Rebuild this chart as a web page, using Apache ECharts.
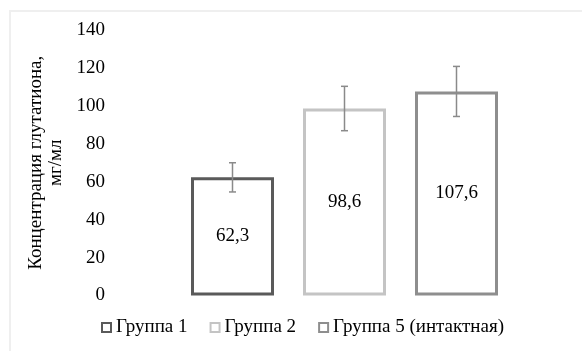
<!DOCTYPE html>
<html>
<head>
<meta charset="utf-8">
<script src="https://cdn.jsdelivr.net/npm/echarts@6/dist/echarts.min.js"></script>
<style>
html,body{margin:0;padding:0;background:#fff;}
#chart{width:582px;height:351px;}
</style>
</head>
<body>
<div id="chart"></div>
<script>
const categories = ['Группа 1', 'Группа 2', 'Группа 5 (интактная)'];
const values = [62.3, 98.6, 107.6];
const errors = [7.7, 11.7, 13.2];
const valueLabels = ['62,3', '98,6', '107,6'];
const yTicks = [0, 20, 40, 60, 80, 100, 120, 140];

const borderColors = ['#5a5a5a', '#c4c4c4', '#8e8e8e'];
const font = "'Liberation Serif', 'Times New Roman', serif";
const fs = 19;

const chart = echarts.init(document.getElementById('chart'));

const barSeries = categories.map((name, i) => ({
  name: name,
  type: 'bar',
  stack: 'all',
  barWidth: 83,
  data: categories.map((c, j) => (j === i ? values[i] : '-')),
  itemStyle: { color: '#ffffff', borderColor: borderColors[i], borderWidth: 3 },
  label: {
    show: true,
    position: 'inside',
    color: '#000',
    fontFamily: font,
    fontSize: fs,
    formatter: () => valueLabels[i]
  },
  emphasis: { disabled: true },
  z: 2
}));

const errData = values.map((v, i) => [i, v - errors[i], v + errors[i]]);

const option = {
  animation: false,
  backgroundColor: '#ffffff',
  graphic: [{
    type: 'rect',
    shape: { x: 10, y: 11, width: 600, height: 400 },
    style: { fill: 'none', stroke: '#efefef', lineWidth: 2 },
    silent: true,
    z: -10
  }],
  grid: { left: 176.5, right: 69.5, top: 30, bottom: 55.5 },
  legend: {
    left: 96,
    top: 313,
    icon: 'rect',
    itemWidth: 9,
    itemHeight: 9,
    itemGap: 22,
    data: categories,
    textStyle: { color: '#000', fontFamily: font, fontSize: fs },
    itemStyle: { borderWidth: 2 }
  },
  xAxis: {
    type: 'category',
    data: categories,
    axisLine: { show: false },
    axisTick: { show: false },
    axisLabel: { show: false },
    splitLine: { show: false }
  },
  yAxis: {
    type: 'value',
    min: yTicks[0],
    max: yTicks[yTicks.length - 1],
    interval: 20,
    axisLine: { show: false },
    axisTick: { show: false },
    splitLine: { show: false },
    axisLabel: { color: '#000', fontFamily: font, fontSize: fs, margin: 71.5 },
    name: 'Концентрация глутатиона,\nмг/мл',
    nameLocation: 'middle',
    nameGap: 100,
    nameRotate: 90,
    nameTextStyle: { color: '#000', fontFamily: font, fontSize: fs, lineHeight: 20 }
  },
  series: barSeries.concat([{
    type: 'custom',
    name: 'err',
    data: errData,
    encode: { x: 0, y: [1, 2] },
    z: 5,
    renderItem: function (params, api) {
      const x = api.value(0);
      const lo = api.coord([x, api.value(1)]);
      const hi = api.coord([x, api.value(2)]);
      const hw = 3.5;
      const st = { stroke: '#8a8a8a', lineWidth: 1.5 };
      return {
        type: 'group',
        children: [
          { type: 'line', shape: { x1: lo[0], y1: lo[1], x2: hi[0], y2: hi[1] }, style: st },
          { type: 'line', shape: { x1: lo[0] - hw, y1: lo[1], x2: lo[0] + hw, y2: lo[1] }, style: st },
          { type: 'line', shape: { x1: hi[0] - hw, y1: hi[1], x2: hi[0] + hw, y2: hi[1] }, style: st }
        ]
      };
    }
  }])
};

chart.setOption(option);
</script>
</body>
</html>
